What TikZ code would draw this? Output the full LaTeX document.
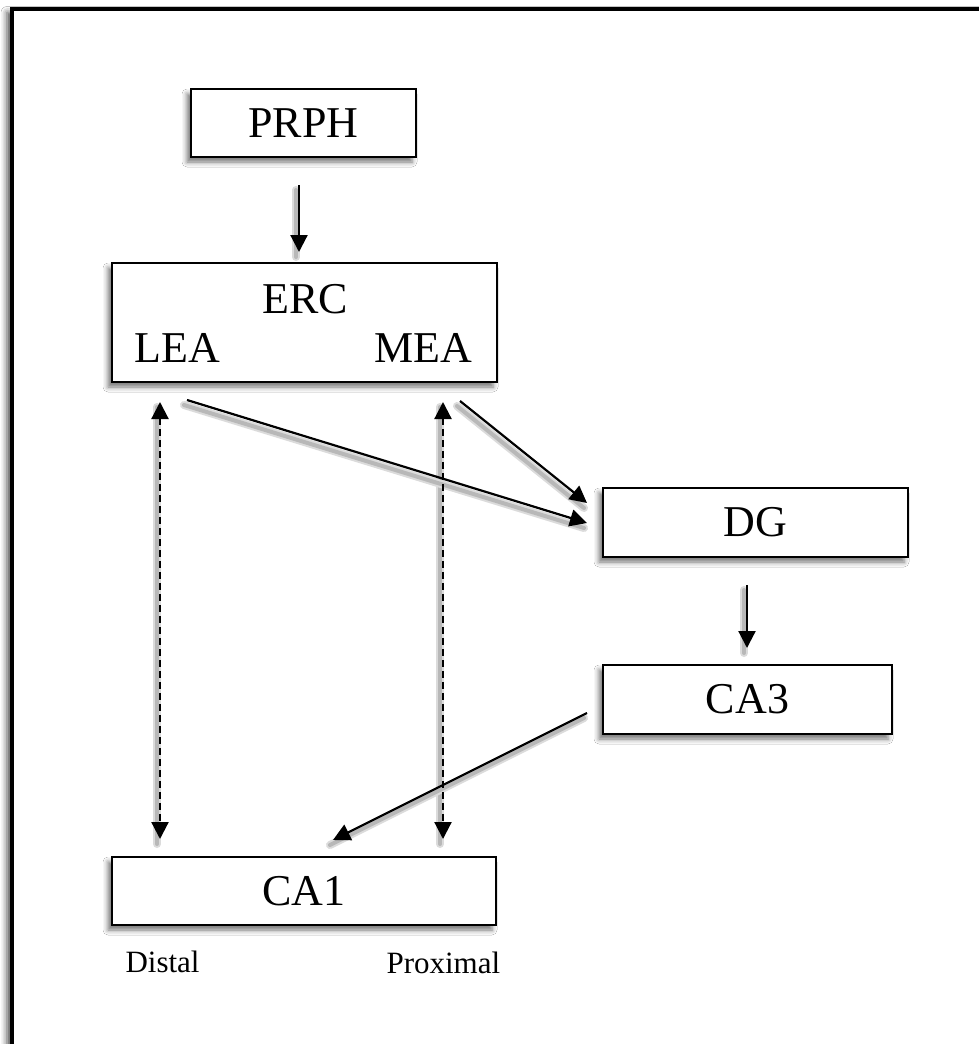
\documentclass[tikz,border=0pt]{standalone}
\usepackage{fontspec}
\setmainfont{Liberation Serif}
\usetikzlibrary{arrows.meta,shadows.blur}
\begin{document}
\begin{tikzpicture}[x=1pt,y=-1pt,
  big/.style={font=\fontsize{44}{52}\selectfont},
  small/.style={font=\fontsize{31}{37}\selectfont},
  box/.style={draw, line width=2pt, fill=white, inner sep=0pt, big,
    blur shadow={shadow xshift=-4pt, shadow yshift=-5pt, shadow blur radius=5pt, shadow opacity=55}},
  shadowline/.style={draw=black!14, line width=8pt, line cap=round,
      transform canvas={shift={(-3pt,-5pt)}}},
  shadowcore/.style={draw=black!28, line width=4pt, line cap=round,
      transform canvas={shift={(-3pt,-5pt)}}},
  arr/.style={draw=black, line width=2.2pt, -{Triangle[length=17pt,width=17pt,fill=black]}},
  darr/.style={draw=black, line width=2.2pt, dash pattern=on 7pt off 4pt,
    {Triangle[length=17pt,width=17pt,fill=black]}-{Triangle[length=17pt,width=17pt,fill=black]}}]
\useasboundingbox (0,0) rectangle (979,1044);
\clip (0,0) rectangle (979,1044);
\fill[white] (0,0) rectangle (979,1044);
% frame
\draw[line width=4pt, fill=white,
  blur shadow={shadow xshift=-5pt, shadow yshift=-4pt, shadow blur radius=6pt, shadow opacity=70}]
  (12,8.5) rectangle (1010,1070);
% connector ends
\coordinate (p1) at (299,185); \coordinate (p2) at (299,252);
\coordinate (d1) at (160,402); \coordinate (d2) at (160,839);
\coordinate (d3) at (443,402); \coordinate (d4) at (443,839);
\coordinate (l1) at (187,400); \coordinate (l2) at (587,523);
\coordinate (m1) at (460,401); \coordinate (m2) at (587,503);
\coordinate (g1) at (747,585); \coordinate (g2) at (747,648);
\coordinate (c1) at (587,713); \coordinate (c2) at (333,840);
% shadows of connectors
\foreach \a/\b in {p1/p2, d1/d2, d3/d4, l1/l2, m1/m2, g1/g2, c1/c2}{
  \path[shadowline] (\a) -- (\b);
  \path[shadowcore] (\a) -- (\b);
}
% boxes
\node[box, minimum width=225pt, minimum height=68pt] (prph) at (303.5,123) {PRPH};
\node[box, minimum width=385pt, minimum height=119pt] (erc) at (304.5,322.5) {};
\node[anchor=base, big] (erclbl) at (305,313) {ERC};
\node[anchor=base, big] (lea) at (177,362) {LEA};
\node[anchor=base, big] (mea) at (423.5,362) {MEA};
\node[box, minimum width=305pt, minimum height=69pt] (dg) at (755.5,522.5) {DG};
\node[box, minimum width=289pt, minimum height=69pt] (ca3) at (747.5,699.5) {CA3};
\node[box, minimum width=384pt, minimum height=68pt] (ca1) at (304,891) {CA1};
\node[anchor=base west, small] (distal) at (122,972) {Distal};
\node[anchor=base west, small] (proximal) at (383,973) {Proximal};
% connectors
\draw[arr] (p1) -- (p2);
\draw[darr] (d1) -- (d2);
\draw[darr] (d3) -- (d4);
\draw[arr] (l1) -- (l2);
\draw[arr] (m1) -- (m2);
\draw[arr] (g1) -- (g2);
\draw[arr] (c1) -- (c2);
\end{tikzpicture}
\end{document}
